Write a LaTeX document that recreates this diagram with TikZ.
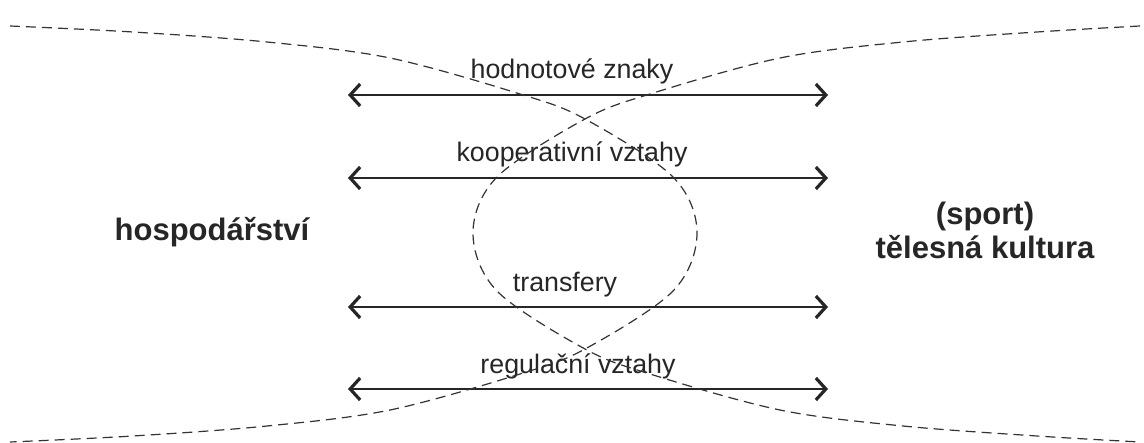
\documentclass[tikz,border=0pt]{standalone}
\usepackage{fontspec}
\setmainfont{Liberation Sans}
\usetikzlibrary{arrows.meta}
\begin{document}
\begin{tikzpicture}[x=.5pt,y=-.5pt,>={Straight Barb[length=5pt,width=11pt,line width=1.6pt]},
    vztah/.style={<->,line width=1.3pt,draw=black!85},
    hranice/.style={dash pattern=on 5pt off 3pt,line width=.6pt,draw=black!80},
    popis/.style={font=\fontsize{13.4}{15}\selectfont,text=black!85,inner sep=0pt,anchor=base},
    oblast/.style={font=\fontsize{15.5}{17}\selectfont\bfseries,text=black!85,align=center,inner sep=0pt}]
    \useasboundingbox (0,0) rectangle (1144,443);
    % vztahy mezi oblastmi
    \foreach \jm/\y/\tx/\txt in {hod/95/572/hodnotové znaky,koop/178/572/kooperativní vztahy,trans/307/565/transfery,reg/389/578/regulační vztahy}{
        \coordinate (\jm L) at (348,\y);
        \coordinate (\jm P) at (828,\y);
        \draw[vztah] (\jm L) -- (\jm P);
        \node[popis] (\jm) at (\tx,\y-16) {\txt};
    }
    \node[oblast] (hosp) at (212,232) {hospodářství};
    \node[oblast] (tk) at (985,230) {(sport)\\tělesná kultura};
    % prekrizene hranice
    \draw[hranice] plot[smooth,tension=.55] coordinates {(10,26) (133,32) (267,42) (390,58) (520,94) (585,119) (673,177) (697,233) (673,291) (585,349) (520,374) (390,410) (267,426) (133,436) (10,442)};
    \draw[hranice] plot[smooth,tension=.55] coordinates {(1140,26) (1037,32) (903,42) (780,58) (650,94) (585,119) (497,177) (473,233) (497,291) (585,349) (650,374) (780,410) (903,426) (1037,436) (1140,442)};
\end{tikzpicture}
\end{document}
